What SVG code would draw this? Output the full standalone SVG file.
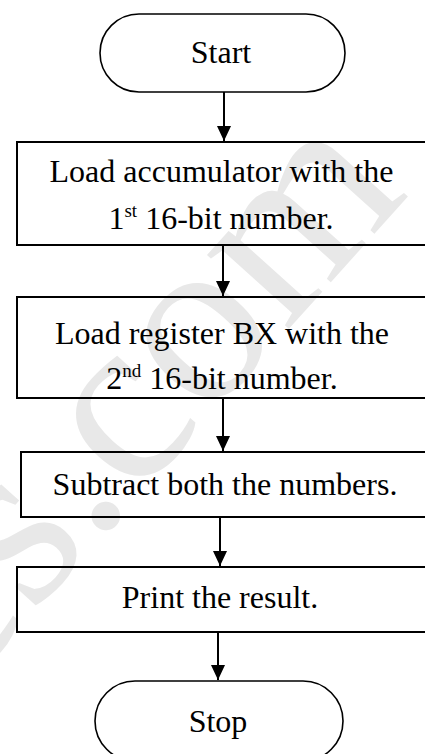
<svg xmlns="http://www.w3.org/2000/svg" width="425" height="754" viewBox="0 0 425 754">
<style>
.t{font-family:"Liberation Serif","Times New Roman",serif;font-size:32px;fill:#000;text-anchor:middle}
.sup{font-size:19px}
.box{fill:none;stroke:#000;stroke-width:2}
.term{fill:none;stroke:#000;stroke-width:1.6}
.wm{font-family:"Liberation Serif","Times New Roman",serif;font-size:240px;fill:#e8e8e8}
.con line{stroke:#000;stroke-width:2}
</style>
<defs>
<marker id="ah" viewBox="0 0 15 14" refX="15" refY="7" markerWidth="15" markerHeight="14" markerUnits="userSpaceOnUse" orient="auto">
<path d="M0,0 L15,7 L0,14 Z" fill="#000"/>
</marker>
</defs>
<rect width="425" height="754" fill="#fff"/>
<text class="wm" transform="translate(-40,694) rotate(-48)">es.com</text>
<g id="start">
<rect class="term" x="100" y="14" width="245" height="78" rx="39" ry="39"/>
<text class="t" x="221" y="63">Start</text>
</g>
<g id="load-acc">
<rect class="box" x="17" y="142" width="420" height="103"/>
<text class="t" x="221.5" y="182">Load accumulator with the</text>
<text class="t" x="221" y="229">1<tspan class="sup" dy="-12">st</tspan><tspan dy="12"> 16-bit number.</tspan></text>
</g>
<g id="load-bx">
<rect class="box" x="17" y="297" width="420" height="101"/>
<text class="t" x="222" y="344">Load register BX with the</text>
<text class="t" x="222" y="389">2<tspan class="sup" dy="-12">nd</tspan><tspan dy="12"> 16-bit number.</tspan></text>
</g>
<g id="subtract">
<rect class="box" x="21" y="452" width="420" height="65"/>
<text class="t" x="225" y="495">Subtract both the numbers.</text>
</g>
<g id="print">
<rect class="box" x="17" y="567" width="420" height="65"/>
<text class="t" x="220" y="608">Print the result.</text>
</g>
<g id="stop">
<rect class="term" x="95" y="681" width="248" height="80" rx="40" ry="40"/>
<text class="t" x="218" y="732">Stop</text>
</g>
<g id="connectors" class="con">
<line x1="224" y1="92" x2="224" y2="141" marker-end="url(#ah)"/>
<line x1="223" y1="245" x2="223" y2="296" marker-end="url(#ah)"/>
<line x1="223" y1="398" x2="223" y2="451" marker-end="url(#ah)"/>
<line x1="220" y1="517" x2="220" y2="566" marker-end="url(#ah)"/>
<line x1="218" y1="632" x2="218" y2="680" marker-end="url(#ah)"/>
</g>
</svg>
